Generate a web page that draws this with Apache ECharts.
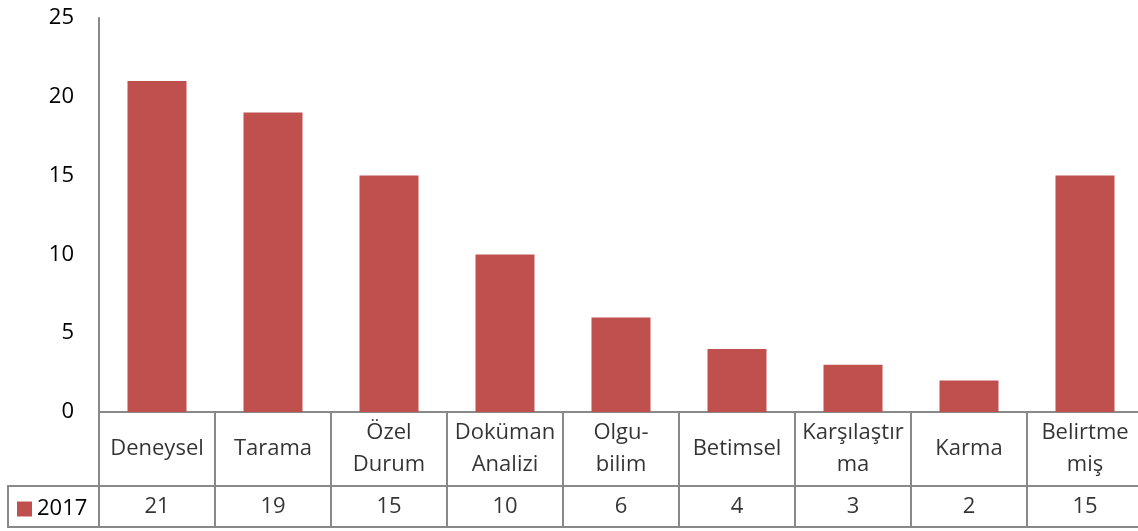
<!DOCTYPE html>
<html>
<head>
<meta charset="utf-8">
<script src="https://cdn.jsdelivr.net/npm/echarts@6/dist/echarts.min.js"></script>
<style>
  html, body { margin: 0; padding: 0; background: #fff; }
  #main { width: 1138px; height: 531px; }
</style>
</head>
<body>
<div id="main"></div>
<script>
// kategoriler (tablodaki satır kırılımlarıyla)
var categories = ['Deneysel', 'Tarama', 'Özel\nDurum', 'Doküman\nAnalizi', 'Olgu-\nbilim', 'Betimsel', 'Karşılaştır\nma', 'Karma', 'Belirtme\nmiş'];
var values2017 = [21, 19, 15, 10, 6, 4, 3, 2, 15];
var seriesName = '2017';
var yTicks = [0, 5, 10, 15, 20, 25];

var font = '"Open Sans", "Noto Sans", sans-serif';
var fs = 22;
var lineColor = '#898989';
var barColor = '#C0504D';

var chart = echarts.init(document.getElementById('main'));

var option = {
  animation: false,
  textStyle: { fontFamily: font },
  legend: {
    data: [seriesName],
    left: 17,
    top: 498,
    padding: 0,
    itemWidth: 15,
    itemHeight: 15,
    itemGap: 5,
    icon: 'rect',
    textStyle: { fontSize: fs, color: '#000', fontFamily: font }
  },
  // tablo sağ kenardan taşıyor, sınır kısıtı kapalı
  grid: [
    { left: 99, top: 18, width: 1044, height: 394, outerBoundsMode: 'none' },
    { left: 99, top: 412, width: 1044, height: 74, outerBoundsMode: 'none', show: true, borderColor: lineColor, borderWidth: 2 },
    { left: 99, top: 486, width: 1044, height: 41, outerBoundsMode: 'none', show: true, borderColor: lineColor, borderWidth: 2 },
    { left: 8, top: 486, width: 91, height: 41, outerBoundsMode: 'none', show: true, borderColor: lineColor, borderWidth: 2 }
  ],
  xAxis: [
    { gridIndex: 0, type: 'category', data: categories, axisLine: { show: false }, axisTick: { show: false }, axisLabel: { show: false } },
    { gridIndex: 1, type: 'category', data: categories, axisLine: { show: false }, axisTick: { show: false }, axisLabel: { show: false },
      splitLine: { show: true, interval: 0, lineStyle: { color: lineColor, width: 2 } } },
    { gridIndex: 2, type: 'category', data: categories, axisLine: { show: false }, axisTick: { show: false }, axisLabel: { show: false },
      splitLine: { show: true, interval: 0, lineStyle: { color: lineColor, width: 2 } } },
    { gridIndex: 3, type: 'category', data: [''], show: false }
  ],
  yAxis: [
    { gridIndex: 0, type: 'value', min: yTicks[0], max: yTicks[yTicks.length - 1], interval: 5,
      axisLine: { show: true, lineStyle: { color: lineColor, width: 2 } },
      axisTick: { show: false }, splitLine: { show: false },
      axisLabel: { margin: 25, fontSize: fs, color: '#000', fontFamily: font } },
    { gridIndex: 1, type: 'value', min: 0, max: 1, show: false },
    { gridIndex: 2, type: 'value', min: 0, max: 1, show: false },
    { gridIndex: 3, type: 'value', min: 0, max: 1, show: false }
  ],
  series: [
    {
      name: seriesName,
      type: 'bar',
      xAxisIndex: 0, yAxisIndex: 0,
      barWidth: 59,
      itemStyle: { color: barColor },
      data: values2017
    },
    {
      type: 'scatter',
      xAxisIndex: 1, yAxisIndex: 1,
      symbolSize: 1,
      itemStyle: { color: 'rgba(0,0,0,0)' },
      silent: true,
      label: { show: true, position: 'inside', fontSize: fs, lineHeight: 32, color: '#000', fontFamily: font,
        formatter: function (p) { return categories[p.dataIndex]; } },
      data: categories.map(function (c, i) { return [i, 0.5]; })
    },
    {
      type: 'scatter',
      xAxisIndex: 2, yAxisIndex: 2,
      symbolSize: 1,
      itemStyle: { color: 'rgba(0,0,0,0)' },
      silent: true,
      label: { show: true, position: 'inside', fontSize: fs, color: '#000', fontFamily: font,
        formatter: function (p) { return String(values2017[p.dataIndex]); } },
      data: values2017.map(function (v, i) { return [i, 0.5]; })
    }
  ]
};

chart.setOption(option);
</script>
</body>
</html>
